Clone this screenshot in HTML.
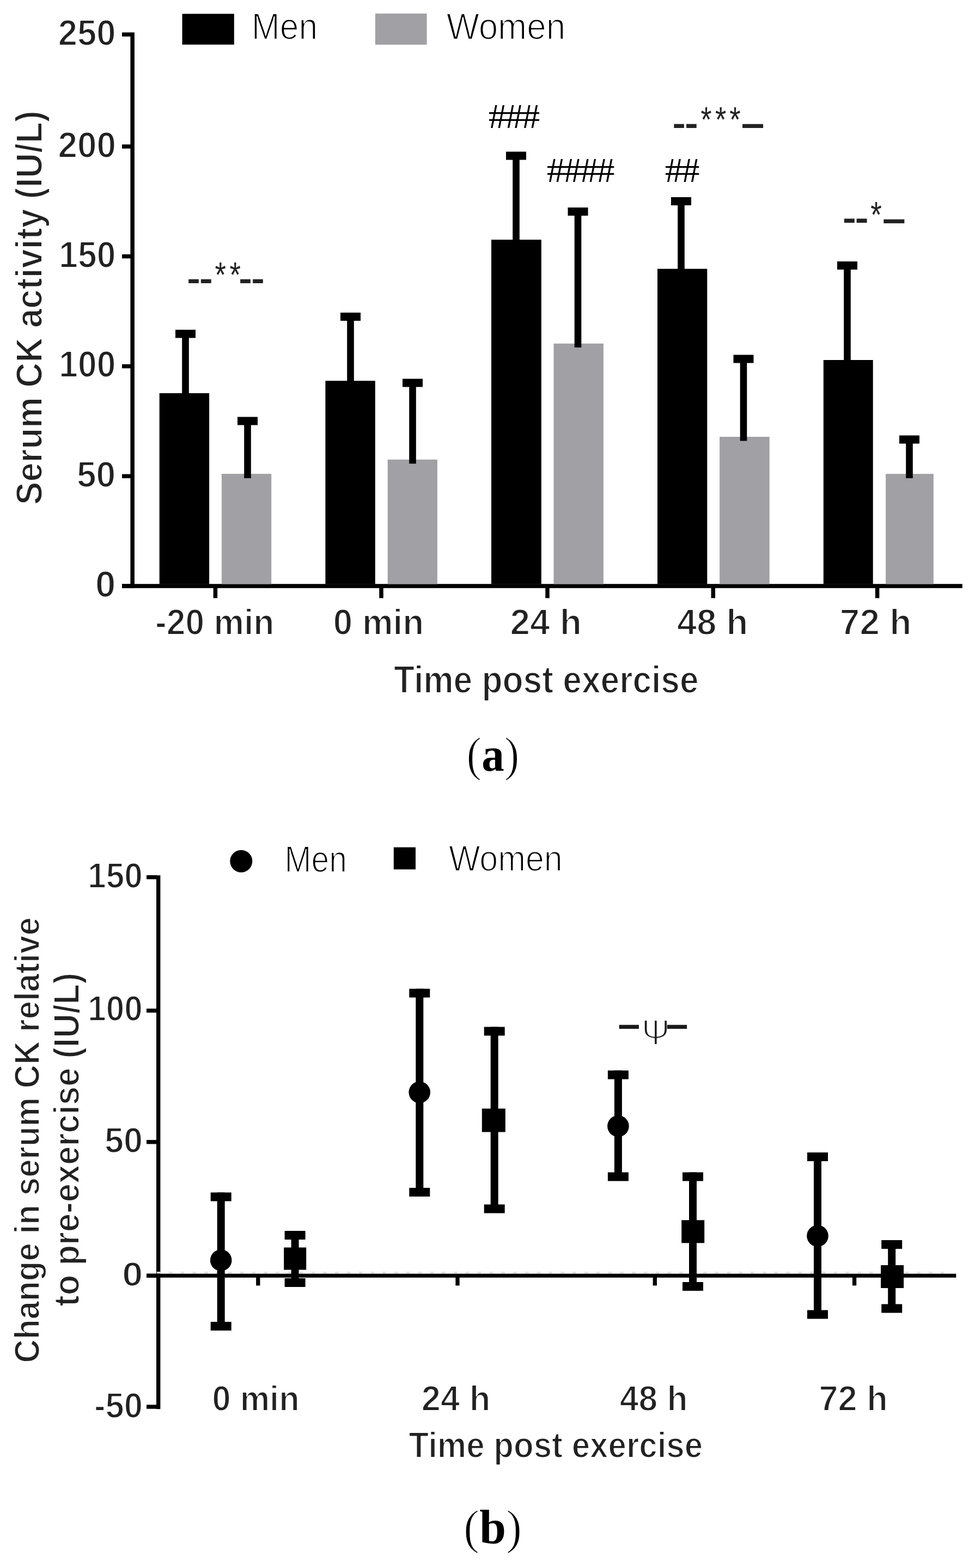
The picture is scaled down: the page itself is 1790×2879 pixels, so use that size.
<!DOCTYPE html>
<html><head><meta charset="utf-8"><title>Serum CK activity</title>
<style>html,body{margin:0;padding:0;background:#fff;}svg{display:block;}</style></head>
<body><svg width="1790" height="2879" viewBox="0 0 1790 2879">
<rect x="0" y="0" width="1790" height="2879" fill="#fff"/>
<rect x="239.40" y="59.50" width="7.50" height="1020.30" fill="#000"/>
<rect x="224.00" y="59.55" width="16.00" height="7.50" fill="#000"/>
<rect x="224.00" y="265.25" width="16.00" height="7.50" fill="#000"/>
<rect x="224.00" y="466.95" width="16.00" height="7.50" fill="#000"/>
<rect x="224.00" y="668.75" width="16.00" height="7.50" fill="#000"/>
<rect x="224.00" y="870.55" width="16.00" height="7.50" fill="#000"/>
<rect x="224.00" y="1072.25" width="16.00" height="7.50" fill="#000"/>
<rect x="224.00" y="1072.20" width="1542.80" height="7.60" fill="#000"/>
<rect x="391.65" y="1079.00" width="7.50" height="19.20" fill="#000"/>
<rect x="696.25" y="1079.00" width="7.50" height="19.20" fill="#000"/>
<rect x="1001.25" y="1079.00" width="7.50" height="19.20" fill="#000"/>
<rect x="1305.55" y="1079.00" width="7.50" height="19.20" fill="#000"/>
<rect x="1606.85" y="1079.00" width="7.50" height="19.20" fill="#000"/>
<rect x="292.70" y="721.90" width="91.40" height="350.60" fill="#000"/>
<rect x="597.40" y="699.20" width="91.40" height="373.30" fill="#000"/>
<rect x="902.00" y="440.10" width="91.80" height="632.40" fill="#000"/>
<rect x="1207.00" y="493.60" width="91.30" height="578.90" fill="#000"/>
<rect x="1511.80" y="661.00" width="90.90" height="411.50" fill="#000"/>
<rect x="406.90" y="870.00" width="91.30" height="202.50" fill="#a1a0a5"/>
<rect x="711.70" y="843.80" width="91.20" height="228.70" fill="#a1a0a5"/>
<rect x="1016.50" y="630.80" width="91.40" height="441.70" fill="#a1a0a5"/>
<rect x="1321.10" y="802.00" width="91.60" height="270.50" fill="#a1a0a5"/>
<rect x="1626.10" y="870.10" width="87.70" height="202.40" fill="#a1a0a5"/>
<rect x="322.00" y="605.50" width="37.00" height="15.00" fill="#000"/>
<rect x="334.20" y="610.50" width="12.60" height="111.50" fill="#000"/>
<rect x="436.00" y="765.50" width="37.00" height="15.00" fill="#000"/>
<rect x="448.20" y="770.50" width="12.60" height="107.50" fill="#000"/>
<rect x="625.00" y="574.00" width="37.00" height="15.00" fill="#000"/>
<rect x="637.20" y="579.00" width="12.60" height="121.00" fill="#000"/>
<rect x="739.00" y="695.50" width="37.00" height="15.00" fill="#000"/>
<rect x="751.20" y="700.50" width="12.60" height="150.80" fill="#000"/>
<rect x="929.00" y="278.50" width="37.00" height="15.00" fill="#000"/>
<rect x="941.20" y="283.50" width="12.60" height="157.50" fill="#000"/>
<rect x="1042.50" y="381.00" width="37.00" height="15.00" fill="#000"/>
<rect x="1054.70" y="386.00" width="12.60" height="252.00" fill="#000"/>
<rect x="1232.00" y="362.00" width="37.00" height="15.00" fill="#000"/>
<rect x="1244.20" y="367.00" width="12.60" height="127.00" fill="#000"/>
<rect x="1346.50" y="651.50" width="37.00" height="15.00" fill="#000"/>
<rect x="1358.70" y="656.50" width="12.60" height="153.00" fill="#000"/>
<rect x="1537.00" y="480.00" width="37.00" height="15.00" fill="#000"/>
<rect x="1549.20" y="485.00" width="12.60" height="177.00" fill="#000"/>
<rect x="1651.00" y="799.50" width="37.00" height="15.00" fill="#000"/>
<rect x="1663.20" y="804.50" width="12.60" height="73.50" fill="#000"/>
<rect x="334.50" y="25.40" width="95.30" height="56.50" fill="#000"/>
<rect x="688.90" y="24.90" width="94.70" height="57.10" fill="#a1a0a5"/>
<text transform="translate(461.81,71.80) scale(0.9063,1)" font-family="'Liberation Sans', sans-serif" font-weight="normal" font-size="68.84" fill="#000" paint-order="fill" stroke="#fff" stroke-width="2" stroke-linejoin="round">Men</text>
<text transform="translate(819.68,71.80) scale(0.9257,1)" font-family="'Liberation Sans', sans-serif" font-weight="normal" font-size="68.84" fill="#000" paint-order="fill" stroke="#fff" stroke-width="2" stroke-linejoin="round">Women</text>
<text transform="translate(106.68,83.20) scale(0.9402,1)" font-family="'Liberation Sans', sans-serif" font-weight="bold" font-size="67.43" fill="#222" paint-order="fill" stroke="#fff" stroke-width="2.0" stroke-linejoin="round">250</text>
<text transform="translate(106.47,288.60) scale(0.9447,1)" font-family="'Liberation Sans', sans-serif" font-weight="bold" font-size="67.57" fill="#222" paint-order="fill" stroke="#fff" stroke-width="2.0" stroke-linejoin="round">200</text>
<text transform="translate(108.36,490.90) scale(0.9162,1)" font-family="'Liberation Sans', sans-serif" font-weight="bold" font-size="68.00" fill="#222" paint-order="fill" stroke="#fff" stroke-width="2.0" stroke-linejoin="round">150</text>
<text transform="translate(108.36,691.90) scale(0.9200,1)" font-family="'Liberation Sans', sans-serif" font-weight="bold" font-size="67.71" fill="#222" paint-order="fill" stroke="#fff" stroke-width="2.0" stroke-linejoin="round">100</text>
<text transform="translate(140.88,893.50) scale(0.9532,1)" font-family="'Liberation Sans', sans-serif" font-weight="bold" font-size="67.29" fill="#222" paint-order="fill" stroke="#fff" stroke-width="2.0" stroke-linejoin="round">50</text>
<text transform="translate(174.91,1095.60) scale(0.9876,1)" font-family="'Liberation Sans', sans-serif" font-weight="bold" font-size="68.00" fill="#222" paint-order="fill" stroke="#fff" stroke-width="2.0" stroke-linejoin="round">0</text>
<text transform="translate(285.11,1164.80) scale(0.9418,1)" font-family="'Liberation Sans', sans-serif" font-weight="bold" font-size="66.21" fill="#222" paint-order="fill" stroke="#fff" stroke-width="2.0" stroke-linejoin="round">-20 min</text>
<text transform="translate(611.85,1164.80) scale(0.9616,1)" font-family="'Liberation Sans', sans-serif" font-weight="bold" font-size="66.21" fill="#222" paint-order="fill" stroke="#fff" stroke-width="2.0" stroke-linejoin="round">0 min</text>
<text transform="translate(936.40,1164.80) scale(0.9935,1)" font-family="'Liberation Sans', sans-serif" font-weight="bold" font-size="66.21" fill="#222" paint-order="fill" stroke="#fff" stroke-width="2.0" stroke-linejoin="round">24 h</text>
<text transform="translate(1243.02,1164.80) scale(0.9831,1)" font-family="'Liberation Sans', sans-serif" font-weight="bold" font-size="66.21" fill="#222" paint-order="fill" stroke="#fff" stroke-width="2.0" stroke-linejoin="round">48 h</text>
<text transform="translate(1541.87,1164.80) scale(0.9921,1)" font-family="'Liberation Sans', sans-serif" font-weight="bold" font-size="66.21" fill="#222" paint-order="fill" stroke="#fff" stroke-width="2.0" stroke-linejoin="round">72 h</text>
<text transform="translate(722.98,1271.60) scale(0.8953,1)" font-family="'Liberation Sans', sans-serif" font-weight="bold" font-size="69.57" fill="#222" paint-order="fill" stroke="#fff" stroke-width="2.0" stroke-linejoin="round">Time post exercise</text>
<text transform="translate(76.50,926.91) rotate(-90) scale(0.9228,1)" font-family="'Liberation Sans', sans-serif" font-weight="bold" font-size="68.86" fill="#222" paint-order="fill" stroke="#fff" stroke-width="2.0" stroke-linejoin="round">Serum CK activity (IU/L)</text>
<text x="0" y="0" font-family="'Liberation Serif', serif" font-size="88.3" fill="#000" transform="translate(856.6,1414.5) scale(0.94,1)"><tspan stroke="#fff" stroke-width="1.6">(</tspan><tspan font-weight="bold">a</tspan><tspan stroke="#fff" stroke-width="1.6">)</tspan></text>
<text font-family="'Liberation Serif', serif" font-weight="normal" fill="#000"><tspan x="896.86" y="234.60" font-size="63.66" textLength="33.48" lengthAdjust="spacingAndGlyphs">#</tspan><tspan x="927.47" y="234.60" font-size="63.66" textLength="33.37" lengthAdjust="spacingAndGlyphs">#</tspan><tspan x="957.86" y="234.60" font-size="63.66" textLength="33.48" lengthAdjust="spacingAndGlyphs">#</tspan></text>
<text font-family="'Liberation Serif', serif" font-weight="normal" fill="#000"><tspan x="1003.86" y="333.80" font-size="63.82" textLength="33.48" lengthAdjust="spacingAndGlyphs">#</tspan><tspan x="1034.26" y="333.80" font-size="63.82" textLength="33.48" lengthAdjust="spacingAndGlyphs">#</tspan><tspan x="1064.66" y="333.80" font-size="63.82" textLength="33.48" lengthAdjust="spacingAndGlyphs">#</tspan><tspan x="1095.06" y="333.80" font-size="63.82" textLength="33.48" lengthAdjust="spacingAndGlyphs">#</tspan></text>
<text font-family="'Liberation Serif', serif" font-weight="normal" fill="#000"><tspan x="1220.87" y="333.80" font-size="63.82" textLength="33.26" lengthAdjust="spacingAndGlyphs">#</tspan><tspan x="1251.17" y="333.80" font-size="63.82" textLength="33.26" lengthAdjust="spacingAndGlyphs">#</tspan></text>
<text font-family="'Liberation Sans', sans-serif" font-weight="bold" fill="#222"><tspan x="343.15" y="532.07" font-size="60.83" textLength="24.55" lengthAdjust="spacingAndGlyphs">-</tspan><tspan x="366.04" y="532.07" font-size="60.83" textLength="24.68" lengthAdjust="spacingAndGlyphs">-</tspan><tspan x="394.61" y="526.75" font-size="64.86" font-weight="normal" textLength="20.43" lengthAdjust="spacingAndGlyphs">*</tspan><tspan x="421.41" y="526.75" font-size="64.86" font-weight="normal" textLength="20.43" lengthAdjust="spacingAndGlyphs">*</tspan><tspan x="438.35" y="532.07" font-size="60.83" textLength="24.55" lengthAdjust="spacingAndGlyphs">-</tspan><tspan x="461.15" y="532.07" font-size="60.83" textLength="24.55" lengthAdjust="spacingAndGlyphs">-</tspan></text>
<text font-family="'Liberation Sans', sans-serif" font-weight="bold" fill="#222"><tspan x="1234.58" y="246.93" font-size="61.67" textLength="24.29" lengthAdjust="spacingAndGlyphs">-</tspan><tspan x="1257.37" y="246.93" font-size="61.67" textLength="24.42" lengthAdjust="spacingAndGlyphs">-</tspan><tspan x="1286.43" y="241.55" font-size="65.14" font-weight="normal" textLength="20.00" lengthAdjust="spacingAndGlyphs">*</tspan><tspan x="1312.92" y="241.55" font-size="65.14" font-weight="normal" textLength="20.32" lengthAdjust="spacingAndGlyphs">*</tspan><tspan x="1339.31" y="241.55" font-size="65.14" font-weight="normal" textLength="20.43" lengthAdjust="spacingAndGlyphs">*</tspan><tspan x="1360.80" y="250.88" font-size="74.00" textLength="42.70" lengthAdjust="spacingAndGlyphs">–</tspan></text>
<text font-family="'Liberation Sans', sans-serif" font-weight="bold" fill="#222"><tspan x="1546.92" y="422.20" font-size="62.50" textLength="24.82" lengthAdjust="spacingAndGlyphs">-</tspan><tspan x="1569.72" y="422.20" font-size="62.50" textLength="24.82" lengthAdjust="spacingAndGlyphs">-</tspan><tspan x="1598.31" y="417.24" font-size="66.00" font-weight="normal" textLength="20.54" lengthAdjust="spacingAndGlyphs">*</tspan><tspan x="1620.00" y="426.20" font-size="75.00" textLength="42.70" lengthAdjust="spacingAndGlyphs">–</tspan></text>
<rect x="287.00" y="1607.20" width="7.40" height="980.00" fill="#000"/>
<rect x="269.00" y="1606.90" width="19.00" height="7.40" fill="#000"/>
<rect x="269.00" y="1851.90" width="19.00" height="7.40" fill="#000"/>
<rect x="269.00" y="2093.10" width="19.00" height="7.40" fill="#000"/>
<rect x="269.00" y="2338.60" width="19.00" height="7.40" fill="#000"/>
<rect x="269.00" y="2579.30" width="19.00" height="7.40" fill="#000"/>
<line x1="288.0" y1="2336.8" x2="1746" y2="2336.8" stroke="#e0e0e0" stroke-width="3.4" stroke-dasharray="6.8 15.0"/>
<rect x="269.00" y="2338.70" width="1486.30" height="7.10" fill="#000"/>
<rect x="470.15" y="2345.00" width="7.30" height="15.40" fill="#000"/>
<rect x="836.35" y="2345.00" width="7.30" height="15.40" fill="#000"/>
<rect x="1198.65" y="2345.00" width="7.30" height="15.40" fill="#000"/>
<rect x="1564.95" y="2345.00" width="7.30" height="15.40" fill="#000"/>
<rect x="386.70" y="2189.50" width="38.00" height="16.00" fill="#000"/>
<rect x="386.70" y="2427.00" width="38.00" height="16.00" fill="#000"/>
<rect x="398.70" y="2189.50" width="14.00" height="245.50" fill="#000"/>
<rect x="522.60" y="2260.00" width="38.00" height="16.00" fill="#000"/>
<rect x="522.60" y="2347.00" width="38.00" height="16.00" fill="#000"/>
<rect x="534.60" y="2260.00" width="14.00" height="95.00" fill="#000"/>
<rect x="751.30" y="1815.50" width="38.00" height="16.00" fill="#000"/>
<rect x="751.30" y="2181.00" width="38.00" height="16.00" fill="#000"/>
<rect x="763.30" y="1815.50" width="14.00" height="373.50" fill="#000"/>
<rect x="888.70" y="1885.50" width="38.00" height="16.00" fill="#000"/>
<rect x="888.70" y="2211.50" width="38.00" height="16.00" fill="#000"/>
<rect x="900.70" y="1885.50" width="14.00" height="334.00" fill="#000"/>
<rect x="1115.90" y="1965.50" width="38.00" height="16.00" fill="#000"/>
<rect x="1115.90" y="2152.50" width="38.00" height="16.00" fill="#000"/>
<rect x="1127.90" y="1965.50" width="14.00" height="195.00" fill="#000"/>
<rect x="1253.00" y="2152.50" width="38.00" height="16.00" fill="#000"/>
<rect x="1253.00" y="2354.00" width="38.00" height="16.00" fill="#000"/>
<rect x="1265.00" y="2152.50" width="14.00" height="209.50" fill="#000"/>
<rect x="1482.00" y="2116.00" width="38.00" height="16.00" fill="#000"/>
<rect x="1482.00" y="2405.50" width="38.00" height="16.00" fill="#000"/>
<rect x="1494.00" y="2116.00" width="14.00" height="297.50" fill="#000"/>
<rect x="1618.20" y="2277.00" width="38.00" height="16.00" fill="#000"/>
<rect x="1618.20" y="2394.50" width="38.00" height="16.00" fill="#000"/>
<rect x="1630.20" y="2277.00" width="14.00" height="125.50" fill="#000"/>
<circle cx="405.7" cy="2314.0" r="19.8" fill="#000"/>
<circle cx="770.2" cy="2005.6" r="19.8" fill="#000"/>
<circle cx="1134.9" cy="2067.7" r="19.8" fill="#000"/>
<circle cx="1501.0" cy="2269.2" r="19.8" fill="#000"/>
<rect x="521.20" y="2290.50" width="41.00" height="41.00" fill="#000"/>
<rect x="884.80" y="2035.50" width="43.00" height="43.00" fill="#000"/>
<rect x="1251.20" y="2240.30" width="42.00" height="42.00" fill="#000"/>
<rect x="1617.10" y="2323.00" width="42.00" height="42.00" fill="#000"/>
<circle cx="442.8" cy="1581.2" r="20.5" fill="#000"/>
<rect x="722.80" y="1555.70" width="40.20" height="40.60" fill="#000"/>
<text transform="translate(522.60,1601.10) scale(0.8621,1)" font-family="'Liberation Sans', sans-serif" font-weight="normal" font-size="68.12" fill="#000" paint-order="fill" stroke="#fff" stroke-width="2" stroke-linejoin="round">Men</text>
<text transform="translate(823.90,1598.50) scale(0.9040,1)" font-family="'Liberation Sans', sans-serif" font-weight="normal" font-size="67.39" fill="#000" paint-order="fill" stroke="#fff" stroke-width="2" stroke-linejoin="round">Women</text>
<text transform="translate(161.29,1629.60) scale(0.9240,1)" font-family="'Liberation Sans', sans-serif" font-weight="bold" font-size="65.14" fill="#222" paint-order="fill" stroke="#fff" stroke-width="2.0" stroke-linejoin="round">150</text>
<text transform="translate(161.29,1874.30) scale(0.9384,1)" font-family="'Liberation Sans', sans-serif" font-weight="bold" font-size="64.14" fill="#222" paint-order="fill" stroke="#fff" stroke-width="2.0" stroke-linejoin="round">100</text>
<text transform="translate(192.11,2115.80) scale(0.9775,1)" font-family="'Liberation Sans', sans-serif" font-weight="bold" font-size="64.43" fill="#222" paint-order="fill" stroke="#fff" stroke-width="2.0" stroke-linejoin="round">50</text>
<text transform="translate(224.26,2360.50) scale(1.0811,1)" font-family="'Liberation Sans', sans-serif" font-weight="bold" font-size="63.29" fill="#222" paint-order="fill" stroke="#fff" stroke-width="2.0" stroke-linejoin="round">0</text>
<text transform="translate(173.04,2602.60) scale(0.9447,1)" font-family="'Liberation Sans', sans-serif" font-weight="bold" font-size="65.14" fill="#222" paint-order="fill" stroke="#fff" stroke-width="2.0" stroke-linejoin="round">-50</text>
<text transform="translate(389.55,2589.50) scale(0.9412,1)" font-family="'Liberation Sans', sans-serif" font-weight="bold" font-size="65.10" fill="#222" paint-order="fill" stroke="#fff" stroke-width="2.0" stroke-linejoin="round">0 min</text>
<text transform="translate(773.78,2589.50) scale(0.9724,1)" font-family="'Liberation Sans', sans-serif" font-weight="bold" font-size="65.10" fill="#222" paint-order="fill" stroke="#fff" stroke-width="2.0" stroke-linejoin="round">24 h</text>
<text transform="translate(1137.86,2589.50) scale(0.9583,1)" font-family="'Liberation Sans', sans-serif" font-weight="bold" font-size="65.10" fill="#222" paint-order="fill" stroke="#fff" stroke-width="2.0" stroke-linejoin="round">48 h</text>
<text transform="translate(1503.47,2589.50) scale(0.9701,1)" font-family="'Liberation Sans', sans-serif" font-weight="bold" font-size="65.10" fill="#222" paint-order="fill" stroke="#fff" stroke-width="2.0" stroke-linejoin="round">72 h</text>
<text transform="translate(750.60,2676.00) scale(0.9026,1)" font-family="'Liberation Sans', sans-serif" font-weight="bold" font-size="66.52" fill="#222" paint-order="fill" stroke="#fff" stroke-width="2.0" stroke-linejoin="round">Time post exercise</text>
<text transform="translate(72.00,2502.50) rotate(-90) scale(0.9168,1)" font-family="'Liberation Sans', sans-serif" font-weight="bold" font-size="65.57" fill="#222" paint-order="fill" stroke="#fff" stroke-width="2.0" stroke-linejoin="round">Change in serum CK relative</text>
<text transform="translate(145.20,2398.82) rotate(-90) scale(0.9282,1)" font-family="'Liberation Sans', sans-serif" font-weight="bold" font-size="66.38" fill="#222" paint-order="fill" stroke="#fff" stroke-width="2.0" stroke-linejoin="round">to pre-exercise (IU/L)</text>
<text font-family="'Liberation Sans', sans-serif" font-weight="bold" fill="#1a1a1a"><tspan x="1134.51" y="1904.78" font-size="74.00" textLength="40.67" lengthAdjust="spacingAndGlyphs">–</tspan><tspan x="1178.09" y="1905.47" font-size="57.75" font-family="'DejaVu Sans', sans-serif" font-weight="200" textLength="52.00" lengthAdjust="spacingAndGlyphs">ψ</tspan><tspan x="1222.39" y="1904.78" font-size="74.00" textLength="40.90" lengthAdjust="spacingAndGlyphs">–</tspan></text>
<text x="0" y="0" font-family="'Liberation Serif', serif" font-size="89" fill="#000" transform="translate(851.0,2834) scale(0.985,1)"><tspan stroke="#fff" stroke-width="1.6">(</tspan><tspan font-weight="bold">b</tspan><tspan stroke="#fff" stroke-width="1.6">)</tspan></text>
</svg></body></html>
